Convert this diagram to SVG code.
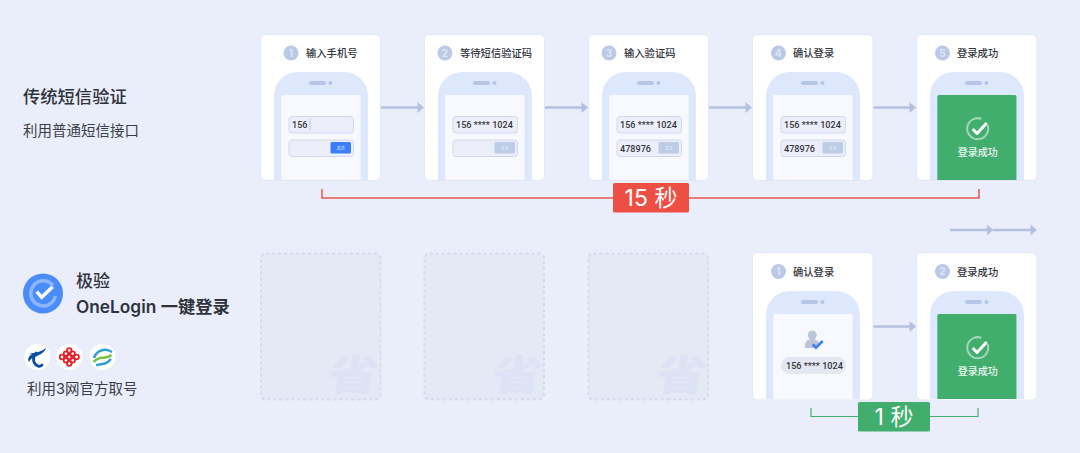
<svg xmlns="http://www.w3.org/2000/svg" width="1080" height="453" viewBox="0 0 1080 453">
<style>
text{font-family:"Noto Sans CJK SC","Inter",sans-serif}
.num{font-family:"Inter","Noto Sans CJK SC",sans-serif}
.code{font-family:"Roboto","Noto Sans CJK SC",sans-serif}
.card{fill:#fff;stroke:#e2e7f5;stroke-width:1}
.title{font-size:10.300px;fill:#32343c;font-weight:500}
.badge{fill:#b9c9e6}
.num{font-size:10px;fill:#dfe7f6;font-weight:700;text-anchor:middle}
.field{fill:#eceff9;stroke:#d0d8ec;stroke-width:1}
.code{font-size:9.100px;fill:#33353d;font-weight:500}
.btn{fill:#bccce6}
.btxt{font-size:4px;fill:#e8eefa;text-anchor:middle}
.ghost{fill:#e4e9f6;stroke:#d3d9ec;stroke-width:2;stroke-dasharray:3 3}
.wm{font-size:46px;font-weight:900;fill:#dde3f4;text-anchor:middle}
.flow{stroke:#b3c0e0;stroke-width:2.300;fill:none}
.head{fill:#b3c0e0}
.side{font-size:14.500px;fill:#3b3e48}
.big{font-size:23px;fill:#fff;text-anchor:middle;font-family:"Inter","Noto Sans CJK SC",sans-serif}
.ok{font-size:10px;fill:#eef8f2;text-anchor:middle;font-weight:500}
</style>
<defs>
<g id="phone">
<path d="M0 108V24A24 24 0 0 1 24 0H70A24 24 0 0 1 94 24V108Z" fill="#deE8fc"/>
<rect x="35" y="9" width="17" height="4" rx="2" fill="#b6c6e6"/>
<circle cx="56.500" cy="11" r="2" fill="#b6c6e6"/>
<path d="M7.300 108V24.500a1.500 1.500 0 0 1 1.500-1.500H85a1.500 1.500 0 0 1 1.500 1.500V108Z" fill="#f8f9fe"/>
</g>
<g id="success">
<path d="M7.300 108V24.500a1.500 1.500 0 0 1 1.500-1.500H85a1.500 1.500 0 0 1 1.500 1.500V108Z" fill="#41ae6e"/>
<path d="M57.600 53.100A10.500 10.500 0 1 1 51.300 46.800" fill="none" stroke="#a3d7b9" stroke-width="2"/>
<path d="M42.700 57l4.300 4.500 9.700-10.500" fill="none" stroke="#fff" stroke-width="3" stroke-linejoin="round"/>
<text class="ok" x="47.700" y="84">登录成功</text>
</g>
<path id="tip" class="head" d="M0-5.500L6.500 0L0 5.500Z"/>
</defs>
<rect width="1080" height="453" fill="#eaeefa"/>

<g id="connectors">
<path class="flow" d="M381 107.500H418M545 107.500H582M709 107.500H746M873 107.500H910M950 230H987M993 230H1031M873 326.500H910"/>
<use href="#tip" x="417.500" y="107.500"/><use href="#tip" x="581.500" y="107.500"/><use href="#tip" x="745.500" y="107.500"/><use href="#tip" x="909.500" y="107.500"/>
<use href="#tip" x="987" y="230"/><use href="#tip" x="1030.500" y="230"/><use href="#tip" x="909.500" y="326.500"/>
<path d="M322 189V198H979V189" fill="none" stroke="#e8574f" stroke-width="1.500"/>
<path d="M811 408V416.500H978V408" fill="none" stroke="#41ae6e" stroke-width="1.200"/>
</g>

<g id="label-sms">
<text x="23" y="103" font-size="17.300" font-weight="500" fill="#2f323a">传统短信验证</text>
<text class="side" x="23" y="136">利用普通短信接口</text>
</g>

<g id="label-onelogin">
<circle cx="43" cy="293.500" r="20" fill="#4a8cfb"/>
<path d="M53 285.500A12.500 12.500 0 1 0 55.500 296" fill="none" stroke="#8db7fd" stroke-width="3.500"/>
<path d="M36.700 291.700l5 5.600 11-10.600" fill="none" stroke="#fff" stroke-width="3.500"/>
<text x="76" y="287" font-size="17" font-weight="500" fill="#2f323a">极验</text>
<text x="76" y="313" font-size="17.300" font-weight="600" fill="#2f323a" style="font-family:Inter,'Noto Sans CJK SC',sans-serif">OneLogin 一键登录</text>
<text class="side" x="27" y="394" style="font-family:Inter,'Noto Sans CJK SC',sans-serif">利用3网官方取号</text>
</g>

<g id="carriers">
<circle cx="37.300" cy="357" r="13" fill="#fff"/>
<path d="M28 353c6 1 13-1 18-5-1 4-5 6-9 8-4 1-7 3-8 6-2-3 0-6 3-8" fill="#0b4da0"/>
<path d="M36 353c-4 5-3 11 2 13 2 1 3 0 4-1" fill="none" stroke="#0b4da0" stroke-width="2.800" stroke-linecap="round"/>
<circle cx="69.300" cy="357" r="13" fill="#fff"/>
<g fill="none" stroke="#e5222c" stroke-width="1.800">
<circle cx="69.300" cy="350.500" r="2.300"/><circle cx="69.300" cy="363.500" r="2.300"/><circle cx="62" cy="357" r="2.300"/><circle cx="76.600" cy="357" r="2.300"/><circle cx="66" cy="353.700" r="2.300"/><circle cx="72.600" cy="353.700" r="2.300"/><circle cx="66" cy="360.300" r="2.300"/><circle cx="72.600" cy="360.300" r="2.300"/><circle cx="69.300" cy="357" r="2.300"/>
</g>
<circle cx="102.700" cy="357" r="13" fill="#fff"/>
<path d="M94 358c2-7 11-11 18-6" fill="none" stroke="#2f9fd8" stroke-width="2.500"/>
<path d="M93.500 362c7-8 11-1 18-7" fill="none" stroke="#7cc242" stroke-width="2.500"/>
<path d="M96 365c7-1 11-1 15-6" fill="none" stroke="#2f9fd8" stroke-width="2.500"/>
</g>

<g id="step1">
<rect class="card" x="260.500" y="34.500" width="120" height="146" rx="5"/>
<circle class="badge" cx="291" cy="53" r="7.500"/><text class="num" x="291" y="56.500">1</text>
<text class="title" x="306" y="57">输入手机号</text>
<use href="#phone" x="274" y="72"/>
<rect class="field" x="289" y="116.500" width="64.500" height="16.500" rx="3"/>
<text class="code" x="292" y="128">156</text><path d="M310 119v11" stroke="#b9c3dc"/>
<rect class="field" x="289" y="140" width="64.500" height="16.500" rx="3"/>
<rect x="330.500" y="142" width="20.500" height="11.500" rx="1.500" fill="#3b7dfb"/><text class="btxt" x="340.700" y="149.500">发送</text>
</g>

<g id="step2">
<rect class="card" x="424.500" y="34.500" width="120" height="146" rx="5"/>
<circle class="badge" cx="445" cy="53" r="7.500"/><text class="num" x="445" y="56.500">2</text>
<text class="title" x="460" y="57">等待短信验证码</text>
<use href="#phone" x="438" y="72"/>
<rect class="field" x="453" y="116.500" width="64.500" height="16.500" rx="3"/>
<text class="code" x="456" y="128">156 **** 1024</text>
<rect class="field" x="453" y="140" width="64.500" height="16.500" rx="3"/>
<rect class="btn" x="494.500" y="142" width="20.500" height="11.500" rx="1.500"/><text class="btxt" x="504.700" y="149.500">发送</text>
</g>

<g id="step3">
<rect class="card" x="588.500" y="34.500" width="120" height="146" rx="5"/>
<circle class="badge" cx="609" cy="53" r="7.500"/><text class="num" x="609" y="56.500">3</text>
<text class="title" x="624" y="57">输入验证码</text>
<use href="#phone" x="602" y="72"/>
<rect class="field" x="617" y="116.500" width="64.500" height="16.500" rx="3"/>
<text class="code" x="620" y="128">156 **** 1024</text>
<rect class="field" x="617" y="140" width="64.500" height="16.500" rx="3"/>
<text class="code" x="620" y="151.500">478976</text>
<rect class="btn" x="658.500" y="142" width="20.500" height="11.500" rx="1.500"/><text class="btxt" x="668.700" y="149.500">发送</text>
</g>

<g id="step4">
<rect class="card" x="752.500" y="34.500" width="120.500" height="146" rx="5"/>
<circle class="badge" cx="778.500" cy="53" r="7.500"/><text class="num" x="778.500" y="56.500">4</text>
<text class="title" x="793" y="57">确认登录</text>
<use href="#phone" x="766" y="72"/>
<rect class="field" x="781" y="116.500" width="64.500" height="16.500" rx="3"/>
<text class="code" x="784" y="128">156 **** 1024</text>
<rect class="field" x="781" y="140" width="64.500" height="16.500" rx="3"/>
<text class="code" x="784" y="151.500">478976</text>
<rect class="btn" x="822.500" y="142" width="20.500" height="11.500" rx="1.500"/><text class="btxt" x="832.700" y="149.500">发送</text>
</g>

<g id="step5">
<rect class="card" x="916.500" y="34.500" width="120.500" height="146" rx="5"/>
<circle class="badge" cx="942.500" cy="53" r="7.500"/><text class="num" x="942.500" y="56.500">5</text>
<text class="title" x="957" y="57">登录成功</text>
<use href="#phone" x="930" y="72"/>
<use href="#success" x="930" y="72"/>
</g>

<g id="time-15"><rect x="613" y="183" width="76" height="29.500" rx="1.500" fill="#ed4f45"/><text class="big" x="651" y="206">15 秒</text></g>

<g id="ghost1"><rect class="ghost" x="261" y="253.500" width="119.500" height="146" rx="5"/><text class="wm" transform="translate(351 390) skewX(-8) scale(1.100 .900)">省</text></g>
<g id="ghost2"><rect class="ghost" x="424.500" y="253.500" width="119.500" height="146" rx="5"/><text class="wm" transform="translate(515 390) skewX(-8) scale(1.100 .900)">省</text></g>
<g id="ghost3"><rect class="ghost" x="588.500" y="253.500" width="119.500" height="146" rx="5"/><text class="wm" transform="translate(679 390) skewX(-8) scale(1.100 .900)">省</text></g>

<g id="one-step1">
<rect class="card" x="752.500" y="252.500" width="120.500" height="147.500" rx="5"/>
<circle class="badge" cx="778.500" cy="271.500" r="7.500"/><text class="num" x="778.500" y="275">1</text>
<text class="title" x="793" y="275.500">确认登录</text>
<use href="#phone" x="766" y="291"/>
<circle cx="812.300" cy="335" r="4.500" fill="#bcc5d6"/>
<path d="M805 348c-1-7 3-9 7-9s6 2 7 4l-5 5Z" fill="#bcc5d6"/>
<path d="M812.700 344.300l3.300 3.400 6.700-6.700" fill="none" stroke="#3b7dfb" stroke-width="2.500"/>
<rect x="781" y="357" width="65" height="17" rx="8.500" fill="#e3e7f2"/>
<text class="code" x="786" y="369">156 **** 1024</text>
</g>

<g id="one-step2">
<rect class="card" x="916.500" y="252.500" width="120.500" height="147.500" rx="5"/>
<circle class="badge" cx="942.500" cy="271.500" r="7.500"/><text class="num" x="942.500" y="275">2</text>
<text class="title" x="957" y="275.500">登录成功</text>
<use href="#phone" x="930" y="291"/>
<use href="#success" x="930" y="291"/>
</g>

<g id="time-1"><rect x="858" y="402" width="72" height="29.500" rx="1.500" fill="#41ae6e"/><text class="big" x="894" y="425">1 秒</text></g>
</svg>
